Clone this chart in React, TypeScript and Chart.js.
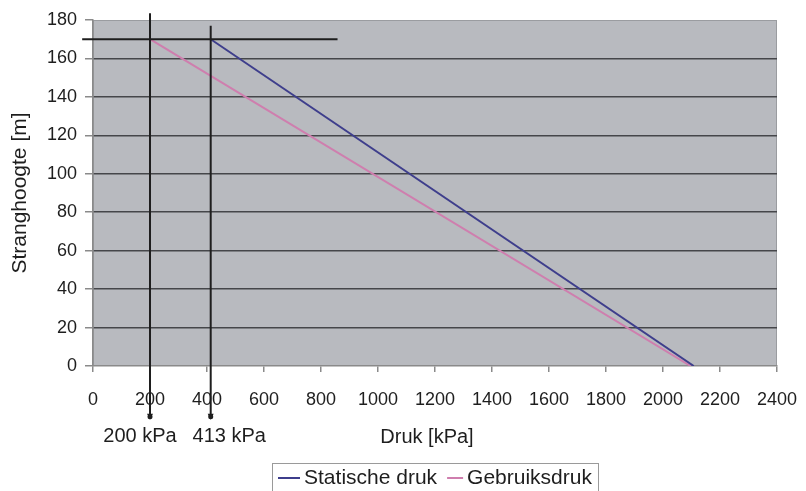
import { useEffect, useRef } from 'react';
import { Chart, registerables } from 'chart.js';

Chart.register(...registerables);

// ---- data ----
const heights = [170, 0]; // Stranghoogte [m]
const staticPressure = [413, 2108]; // kPa
const usagePressure = [200, 2097]; // kPa
const seriesNames = ['Statische druk', 'Gebruiksdruk'];
const seriesColors = ['#3e3e8c', '#cf7eae'];

// annotation guides (in data units)
const markerValues = [200, 413]; // kPa
const markerTops = [183.5, 177]; // m
const markerBottom = -27.5; // m
const markerLabels = ['200 kPa', '413 kPa'];
const markerLabelCenters = [165, 478]; // kPa
const guideHeight = 170; // m
const guideRange = [-38, 858]; // kPa

const xTitle = 'Druk [kPa]';
const yTitle = 'Stranghoogte [m]';

const FONT = '"Liberation Sans", Arial, Helvetica, sans-serif';

export default function App() {
  const ref = useRef<HTMLCanvasElement | null>(null);

  useEffect(() => {
    document.body.style.margin = '0';
    const canvas = ref.current;
    if (!canvas) return;

    const bgPlugin = {
      id: 'plotBg',
      beforeDraw(chart: any) {
        const { ctx, chartArea: a } = chart;
        ctx.save();
        ctx.fillStyle = '#b8babf';
        ctx.fillRect(a.left, a.top, a.right - a.left, a.bottom - a.top);
        ctx.strokeStyle = '#9a9ca0';
        ctx.lineWidth = 1;
        ctx.strokeRect(a.left + 0.5, a.top + 0.5, a.right - a.left - 1, a.bottom - a.top - 1);
        ctx.restore();
      },
    };

    const annoPlugin = {
      id: 'anno',
      afterDraw(chart: any) {
        const { ctx, chartArea: a } = chart;
        const xs = chart.scales.x;
        const ys = chart.scales.y;
        ctx.save();
        // guide lines
        ctx.strokeStyle = '#1e1e1e';
        ctx.lineWidth = 2;
        const gy = ys.getPixelForValue(guideHeight);
        ctx.beginPath();
        ctx.moveTo(xs.getPixelForValue(guideRange[0]), gy);
        ctx.lineTo(xs.getPixelForValue(guideRange[1]), gy);
        ctx.stroke();
        markerValues.forEach((v, i) => {
          const px = xs.getPixelForValue(v);
          const top = ys.getPixelForValue(markerTops[i]);
          const bot = ys.getPixelForValue(markerBottom);
          ctx.beginPath();
          ctx.moveTo(px, top);
          ctx.lineTo(px, bot - 2);
          ctx.stroke();
          ctx.fillStyle = '#1e1e1e';
          ctx.beginPath();
          ctx.moveTo(px - 3, bot - 5);
          ctx.lineTo(px + 3, bot - 5);
          ctx.lineTo(px, bot + 1);
          ctx.closePath();
          ctx.fill();
          ctx.beginPath();
          ctx.arc(px, bot - 2, 2.5, 0, Math.PI * 2);
          ctx.fill();
          ctx.font = `20px ${FONT}`;
          ctx.fillStyle = '#1e1e1e';
          ctx.textAlign = 'center';
          ctx.textBaseline = 'middle';
          ctx.fillText(markerLabels[i], xs.getPixelForValue(markerLabelCenters[i]), 436);
        });

        // axis titles
        ctx.fillStyle = '#1e1e1e';
        ctx.font = `20px ${FONT}`;
        ctx.textAlign = 'center';
        ctx.textBaseline = 'middle';
        const cx = (a.left + a.right) / 2;
        ctx.fillText(xTitle, cx - 8, 437);
        ctx.save();
        ctx.translate(20, (a.top + a.bottom) / 2);
        ctx.rotate(-Math.PI / 2);
        ctx.font = `21px ${FONT}`;
        ctx.fillText(yTitle, 0, 0);
        ctx.restore();

        // legend
        ctx.font = `21px ${FONT}`;
        const sampleW = [22, 16];
        const gap = 4;
        const itemGap = 10;
        const pad = 6;
        const widths = seriesNames.map((n) => ctx.measureText(n).width);
        let total = pad * 2;
        seriesNames.forEach((_, i) => {
          total += sampleW[i] + gap + widths[i] + (i < seriesNames.length - 1 ? itemGap : 0);
        });
        const left = cx - total / 2;
        const boxTop = 463;
        ctx.strokeStyle = '#9a9a9a';
        ctx.lineWidth = 1;
        ctx.strokeRect(Math.round(left) + 0.5, boxTop + 0.5, Math.round(total), 40);
        let x = left + pad;
        const ly = 478;
        ctx.textAlign = 'left';
        seriesNames.forEach((n, i) => {
          ctx.strokeStyle = seriesColors[i];
          ctx.lineWidth = 2;
          ctx.beginPath();
          ctx.moveTo(x, ly);
          ctx.lineTo(x + sampleW[i], ly);
          ctx.stroke();
          x += sampleW[i] + gap;
          ctx.fillStyle = '#1e1e1e';
          ctx.fillText(n, x, ly);
          x += widths[i] + itemGap;
        });
        ctx.restore();
      },
    };

    const chart = new Chart(canvas, {
      type: 'line',
      data: {
        datasets: [
          {
            label: seriesNames[0],
            data: heights.map((h, i) => ({ x: staticPressure[i], y: h })),
            borderColor: seriesColors[0],
            borderWidth: 2,
            pointRadius: 0,
            tension: 0,
          },
          {
            label: seriesNames[1],
            data: heights.map((h, i) => ({ x: usagePressure[i], y: h })),
            borderColor: seriesColors[1],
            borderWidth: 2,
            pointRadius: 0,
            tension: 0,
          },
        ],
      },
      options: {
        animation: false,
        responsive: false,
        maintainAspectRatio: false,
        layout: { padding: { left: 0, top: 20, right: 29, bottom: 0 } },
        plugins: { legend: { display: false }, tooltip: { enabled: false } },
        scales: {
          x: {
            type: 'linear',
            min: 0,
            max: 2400,
            ticks: {
              stepSize: 200,
              color: '#1e1e1e',
              font: { size: 18, family: FONT },
              padding: 17,
              maxRotation: 0,
              autoSkip: false,
              callback: (v: any) => String(v),
            },
            grid: { drawOnChartArea: false, drawTicks: true, tickLength: 6, tickColor: '#8a8a8a', lineWidth: 1.5 },
            border: { color: '#8a8a8a', width: 1.5 },
            afterFit(scale: any) {
              scale.height = 125;
              scale.paddingRight = 0;
              scale.paddingLeft = 0;
            },
          },
          y: {
            min: 0,
            max: 180,
            ticks: { stepSize: 20, color: '#1e1e1e', font: { size: 18, family: FONT }, padding: 8 },
            grid: {
              drawTicks: true,
              tickLength: 8,
              tickColor: '#8a8a8a',
              lineWidth: 1.5,
              color: (c: any) => (c.tick && (c.tick.value === 0 || c.tick.value === 180) ? 'rgba(0,0,0,0)' : '#45464a'),
            },
            border: { color: '#8a8a8a', width: 1.5 },
            afterFit(scale: any) {
              scale.width = 93;
              scale.paddingTop = 0;
              scale.paddingBottom = 0;
            },
          },
        },
      },
      plugins: [bgPlugin, annoPlugin],
    });

    return () => chart.destroy();
  }, []);

  return (
    <div style={{ width: 806, height: 491, position: 'relative' }}>
      <canvas ref={ref} width={806} height={491} style={{ display: 'block', width: 806, height: 491 }} />
    </div>
  );
}
